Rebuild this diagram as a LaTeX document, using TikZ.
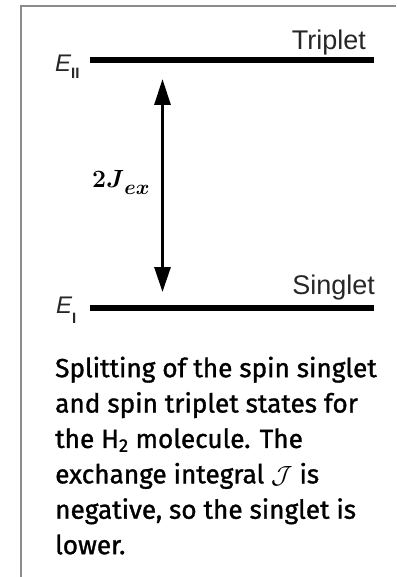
\documentclass[tikz,border=0pt]{standalone}
\usepackage{fontspec}
\usepackage{bm}
\usetikzlibrary{arrows.meta}
\newfontfamily\labelfont{Liberation Sans}
\newfontfamily\capfont{Fira Sans}[FakeBold=1.2]
\tikzset{
  frameline/.style={draw=black!45, line width=2pt},
  level/.style={line width=6pt},
  gaparrow/.style={line width=3pt, arrows={Triangle[length=26pt,width=16pt]-Triangle[length=25pt,width=16pt]}},
  statelabel/.style={inner sep=0, font=\labelfont\fontsize{27}{27}\selectfont, text=black!85},
  elabel/.style={inner sep=0, font=\labelfont\fontsize{24}{24}\selectfont, text=black!85},
  jlabel/.style={inner sep=0, font=\fontsize{26.5}{26.5}\selectfont},
  caption/.style={inner sep=0, align=left, font=\capfont\fontsize{26.2}{35.4}\selectfont}
}
\begin{document}
\begin{tikzpicture}[x=1pt,y=-1pt]
\useasboundingbox (0,0) rectangle (396,577);
% frame
\coordinate (fb) at (21,577);
\coordinate (fc) at (21,6);
\coordinate (fr) at (396,6);
\draw[frameline] (fb) -- (fc) -- (fr);
% levels
\coordinate (tl) at (90,60.5);
\coordinate (tr) at (374,60.5);
\coordinate (sl) at (90,307.5);
\coordinate (sr) at (374,307.5);
\draw[level] (tl) -- (tr);
\draw[level] (sl) -- (sr);
% labels
\node[statelabel, anchor=base east] (trip) at (366,50) {Triplet};
\node[statelabel, anchor=base east] (sing) at (375,294) {Singlet};
\node[elabel, anchor=base west] (e2) at (55,72) {\itshape E\raisebox{-7pt}{\fontsize{15}{15}\selectfont\upshape\bfseries II}};
\node[elabel, anchor=base west] (e1) at (56,313) {\itshape E\raisebox{-10pt}{\fontsize{15}{15}\selectfont\upshape\bfseries I}};
% arrow
\coordinate (atop) at (162.5,79);
\coordinate (abot) at (162.5,292);
\draw[gaparrow] (atop) -- (abot);
\node[jlabel, anchor=base west] (jx) at (92,187) {$\bm{2J}$\raisebox{-8pt}{\fontsize{22}{22}\selectfont$\bm{ex}$}};
% caption
\node[caption, anchor=north west] (cap) at (55,356.5) {Splitting of the spin singlet\\and spin triplet states for\\the H\textsubscript{2} molecule. The\\exchange integral $\mathcal{J}$ is\\negative, so the singlet is\\lower.};
\end{tikzpicture}
\end{document}
